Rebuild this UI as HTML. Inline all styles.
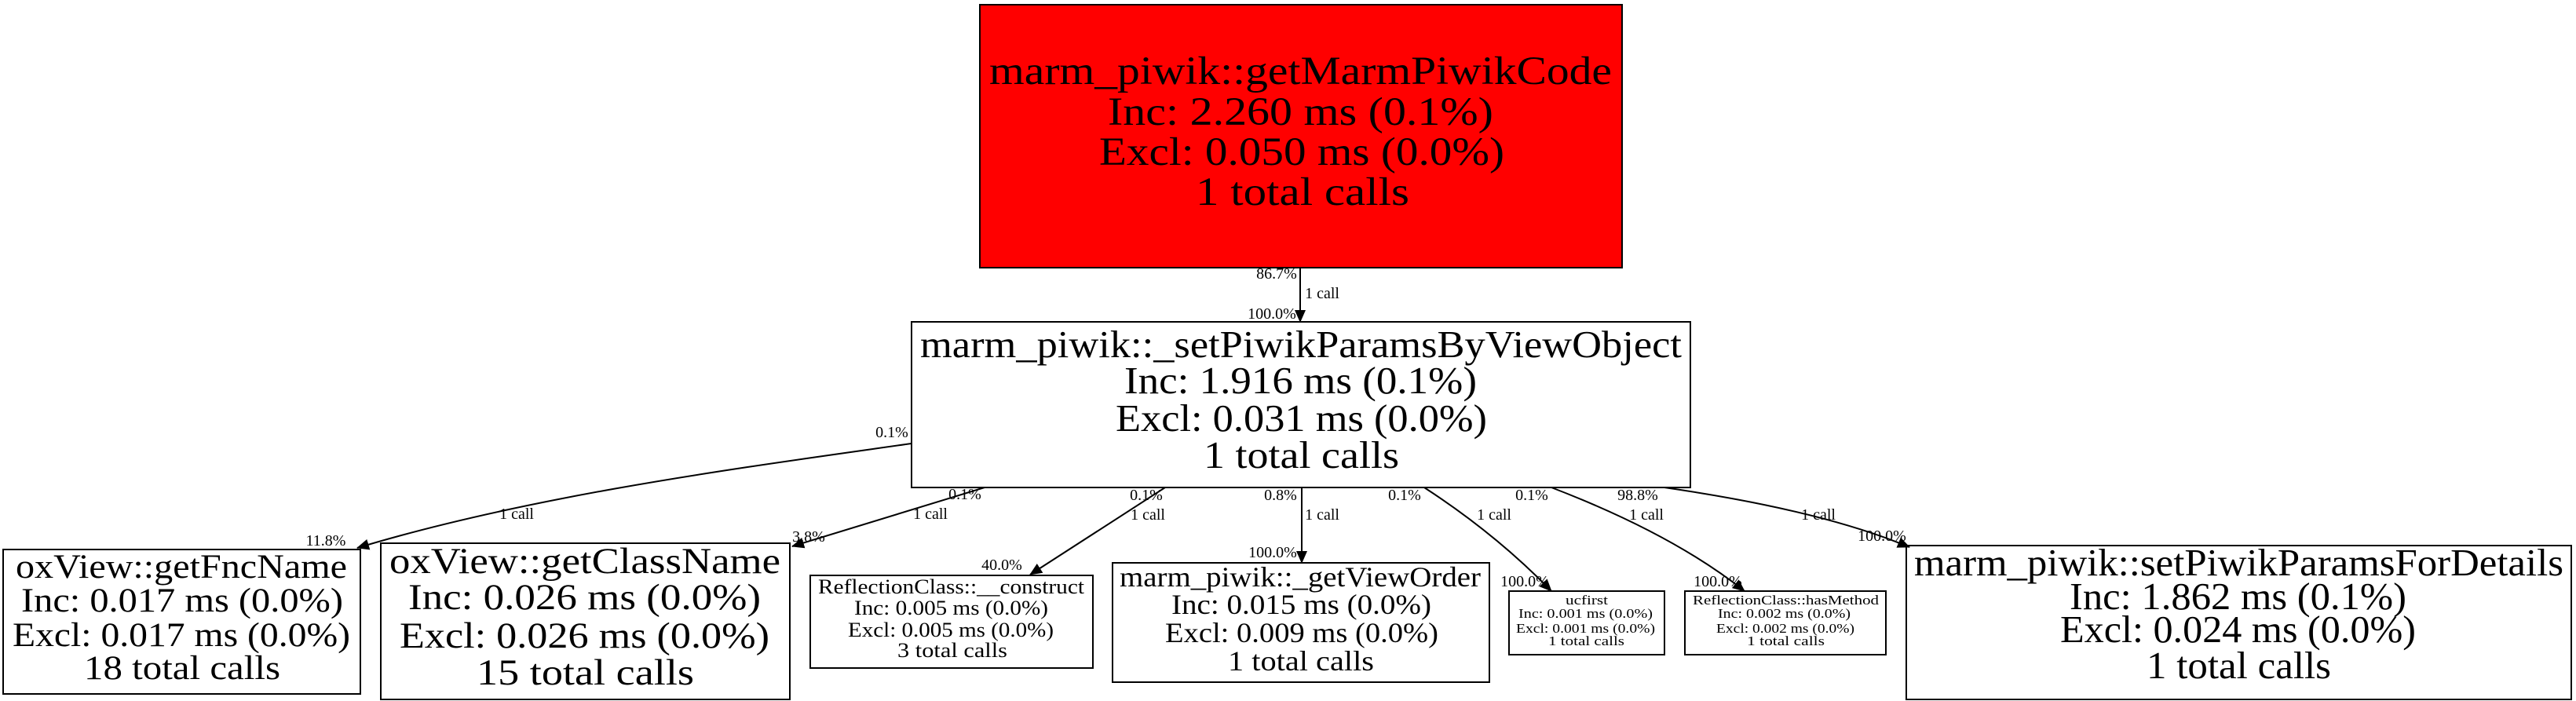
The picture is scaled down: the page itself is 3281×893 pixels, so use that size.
<!DOCTYPE html>
<html><head><meta charset="utf-8"><style>html,body{margin:0;padding:0;background:#fff}svg{display:block}</style></head>
<body>
<svg width="3281" height="893" viewBox="0 0 3281 893" xmlns="http://www.w3.org/2000/svg" font-family="'Liberation Serif', serif">
<defs>
<marker id="b" markerWidth="16" markerHeight="14" refX="15" refY="7" orient="auto" markerUnits="userSpaceOnUse" viewBox="0 0 16 14"><path d="M0,0 L16,7 L0,14 z" fill="#000"/></marker></defs>
<g fill="none" stroke="#000" stroke-width="2">
<rect x="1248" y="6" width="818" height="335" fill="#ff0000"/>
<rect x="1161" y="410" width="992" height="211" fill="#fff"/>
<rect x="4" y="700" width="455" height="184"/>
<rect x="485" y="692" width="521" height="199"/>
<rect x="1032" y="733" width="360" height="118"/>
<rect x="1417" y="717" width="480" height="152"/>
<rect x="1922" y="753" width="198" height="81"/>
<rect x="2146" y="753" width="256" height="81"/>
<rect x="2428" y="695" width="847" height="196"/>
<path d="M1656,341 L1656,410" marker-end="url(#b)"/>
<path d="M1161,565 C950,595 680,630 455,698" marker-end="url(#b)"/>
<path d="M1254,621 L1009,696" marker-end="url(#b)"/>
<path d="M1484,621 L1312,732" marker-end="url(#b)"/>
<path d="M1658,621 L1658,717" marker-end="url(#b)"/>
<path d="M1814,621 Q1905,680 1976,753" marker-end="url(#b)"/>
<path d="M1976,621 Q2130,680 2222,753" marker-end="url(#b)"/>
<path d="M2120,621 Q2320,650 2432,697" marker-end="url(#b)"/>
</g>
<g fill="#000" font-size="51">
<text x="1260" y="107" textLength="793" lengthAdjust="spacingAndGlyphs">marm_piwik::getMarmPiwikCode</text>
<text x="1411" y="159" textLength="491" lengthAdjust="spacingAndGlyphs">Inc: 2.260 ms (0.1%)</text>
<text x="1400" y="210" textLength="516" lengthAdjust="spacingAndGlyphs">Excl: 0.050 ms (0.0%)</text>
<text x="1523" y="261" textLength="272" lengthAdjust="spacingAndGlyphs">1 total calls</text>
</g>
<g fill="#000" font-size="49">
<text x="1172" y="455" textLength="970" lengthAdjust="spacingAndGlyphs">marm_piwik::_setPiwikParamsByViewObject</text>
<text x="1432" y="501" textLength="449" lengthAdjust="spacingAndGlyphs">Inc: 1.916 ms (0.1%)</text>
<text x="1421" y="549" textLength="473" lengthAdjust="spacingAndGlyphs">Excl: 0.031 ms (0.0%)</text>
<text x="1533" y="596" textLength="249" lengthAdjust="spacingAndGlyphs">1 total calls</text>
</g>
<g fill="#000" font-size="43">
<text x="20" y="736" textLength="422" lengthAdjust="spacingAndGlyphs">oxView::getFncName</text>
<text x="27" y="779" textLength="410" lengthAdjust="spacingAndGlyphs">Inc: 0.017 ms (0.0%)</text>
<text x="16" y="823" textLength="430" lengthAdjust="spacingAndGlyphs">Excl: 0.017 ms (0.0%)</text>
<text x="107" y="865" textLength="250" lengthAdjust="spacingAndGlyphs">18 total calls</text>
</g>
<g fill="#000" font-size="47">
<text x="496" y="730" textLength="498" lengthAdjust="spacingAndGlyphs">oxView::getClassName</text>
<text x="520" y="776" textLength="449" lengthAdjust="spacingAndGlyphs">Inc: 0.026 ms (0.0%)</text>
<text x="509" y="825" textLength="471" lengthAdjust="spacingAndGlyphs">Excl: 0.026 ms (0.0%)</text>
<text x="607" y="872" textLength="277" lengthAdjust="spacingAndGlyphs">15 total calls</text>
</g>
<g fill="#000" font-size="26">
<text x="1042" y="756" textLength="339" lengthAdjust="spacingAndGlyphs">ReflectionClass::__construct</text>
<text x="1088" y="783" textLength="247" lengthAdjust="spacingAndGlyphs">Inc: 0.005 ms (0.0%)</text>
<text x="1080" y="811" textLength="262" lengthAdjust="spacingAndGlyphs">Excl: 0.005 ms (0.0%)</text>
<text x="1143" y="837" textLength="140" lengthAdjust="spacingAndGlyphs">3 total calls</text>
</g>
<g fill="#000" font-size="36">
<text x="1426" y="747" textLength="460" lengthAdjust="spacingAndGlyphs">marm_piwik::_getViewOrder</text>
<text x="1492" y="782" textLength="331" lengthAdjust="spacingAndGlyphs">Inc: 0.015 ms (0.0%)</text>
<text x="1484" y="818" textLength="348" lengthAdjust="spacingAndGlyphs">Excl: 0.009 ms (0.0%)</text>
<text x="1564" y="854" textLength="186" lengthAdjust="spacingAndGlyphs">1 total calls</text>
</g>
<g fill="#000" font-size="17">
<text x="1994" y="770" textLength="54" lengthAdjust="spacingAndGlyphs">ucfirst</text>
<text x="1934" y="787" textLength="171" lengthAdjust="spacingAndGlyphs">Inc: 0.001 ms (0.0%)</text>
<text x="1931" y="806" textLength="177" lengthAdjust="spacingAndGlyphs">Excl: 0.001 ms (0.0%)</text>
<text x="1972" y="822" textLength="97" lengthAdjust="spacingAndGlyphs">1 total calls</text>
<text x="2156" y="770" textLength="237" lengthAdjust="spacingAndGlyphs">ReflectionClass::hasMethod</text>
<text x="2188" y="787" textLength="169" lengthAdjust="spacingAndGlyphs">Inc: 0.002 ms (0.0%)</text>
<text x="2186" y="806" textLength="176" lengthAdjust="spacingAndGlyphs">Excl: 0.002 ms (0.0%)</text>
<text x="2225" y="822" textLength="99" lengthAdjust="spacingAndGlyphs">1 total calls</text>
</g>
<g fill="#000" font-size="49">
<text x="2438" y="733" textLength="827" lengthAdjust="spacingAndGlyphs">marm_piwik::setPiwikParamsForDetails</text>
<text x="2636" y="776" textLength="429" lengthAdjust="spacingAndGlyphs">Inc: 1.862 ms (0.1%)</text>
<text x="2624" y="818" textLength="453" lengthAdjust="spacingAndGlyphs">Excl: 0.024 ms (0.0%)</text>
<text x="2734" y="864" textLength="235" lengthAdjust="spacingAndGlyphs">1 total calls</text>
</g>
<g fill="#000" font-size="20" text-anchor="middle">
<text x="1626" y="355">86.7%</text><text x="1684" y="380">1 call</text><text x="1620" y="406">100.0%</text>
<text x="1136" y="557">0.1%</text><text x="658" y="661">1 call</text><text x="415" y="695">11.8%</text>
<text x="1229" y="636">0.1%</text><text x="1185" y="661">1 call</text><text x="1030" y="690">3.8%</text>
<text x="1460" y="637">0.1%</text><text x="1462" y="662">1 call</text><text x="1276" y="726">40.0%</text>
<text x="1631" y="637">0.8%</text><text x="1684" y="662">1 call</text><text x="1621" y="710">100.0%</text>
<text x="1789" y="637">0.1%</text><text x="1903" y="662">1 call</text><text x="1942" y="747">100.0%</text>
<text x="1951" y="637">0.1%</text><text x="2097" y="662">1 call</text><text x="2188" y="747">100.0%</text>
<text x="2086" y="637">98.8%</text><text x="2316" y="662">1 call</text><text x="2397" y="689">100.0%</text>
</g>
</svg>
</body></html>
